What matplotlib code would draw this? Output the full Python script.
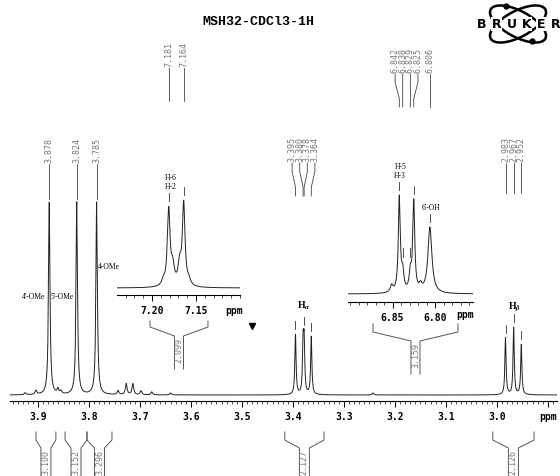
import numpy as np
import matplotlib.pyplot as plt
from matplotlib.patches import Ellipse
from matplotlib.lines import Line2D
from matplotlib.ticker import MultipleLocator, FuncFormatter

W, H = 560, 477

plt.rcParams['font.family'] = ['DejaVu Sans Mono']
plt.rcParams['font.weight'] = 'bold'
plt.rcParams['mathtext.fontset'] = 'stix'

# main spectrum: line positions (ppm), heights, half widths (ppm)
main_ppm = [3.925, 3.904, 3.878, 3.861, 3.855, 3.824, 3.785, 3.743, 3.727, 3.714,
            3.698, 3.677, 3.640, 3.395, 3.380, 3.378, 3.364, 3.243, 2.983, 2.967, 2.952]
main_height = [2, 4, 193, 5, 3, 193, 193, 4, 11, 11,
               4, 3, 2, 60, 48, 48, 58, 2, 57, 67, 50]
main_hwhm = [0.002, 0.002, 0.0017, 0.002, 0.002, 0.0017, 0.0017, 0.002, 0.002, 0.002,
             0.002, 0.002, 0.002, 0.0014, 0.0014, 0.0014, 0.0014, 0.002, 0.0014, 0.0014, 0.0014]

# inset 1 (H-6 / H-2)
in1_ppm = [7.187, 7.181, 7.1765, 7.1685, 7.164, 7.158]
in1_height = [5, 76, 18, 20, 82, 5]
in1_hwhm = [0.0022, 0.0018, 0.0022, 0.0022, 0.0018, 0.0022]

# inset 2 (H-5 / H-3 / 6'-OH)
in2_ppm = [6.851, 6.842, 6.838, 6.829, 6.825, 6.817, 6.806]
in2_height = [7, 95, 18, 18, 90, 6, 66]
in2_hwhm = [0.002, 0.0014, 0.0016, 0.0016, 0.0014, 0.002, 0.0028]

# peak pick labels
picks_in1 = [7.181, 7.164]
picks_in2 = [6.842, 6.838, 6.829, 6.825, 6.806]
picks_ome = [3.878, 3.824, 3.785]
picks_ha = [3.395, 3.380, 3.378, 3.364]
picks_hb = [2.983, 2.967, 2.952]

# integrals
int_start = [3.904, 3.847, 3.804, 3.416, 3.008]
int_end = [3.865, 3.804, 3.755, 3.339, 2.927]
int_value = ["3.100", "3.152", "3.296", "2.127", "2.126"]
int1_range = (7.2023, 7.1364)
int1_value = "2.099"
int2_range = (6.873, 6.773)
int2_value = "3.159"


def lorentz(grid, centers, heights, widths):
    y = np.zeros_like(grid)
    for c, h, w in zip(centers, heights, widths):
        y += h * w ** 2 / ((grid - c) ** 2 + w ** 2)
    return y


def fx(px):
    return px / W


def fy(py):
    return 1 - py / H


def add_axes_px(x0, y0, x1, y1):
    return fig.add_axes([fx(x0), fy(y1), (x1 - x0) / W, (y1 - y0) / H])


def spread(xs, gap):
    xs = np.array(xs, dtype=float)
    for _ in range(500):
        d = np.diff(xs)
        if (d >= gap - 1e-6).all():
            break
        for i in np.where(d < gap)[0]:
            push = (gap - (xs[i + 1] - xs[i])) / 2
            xs[i] -= push
            xs[i + 1] += push
    return xs


def px_of(ax, ppm):
    return ax.transData.transform((ppm, 0))[0]


def draw_picks(ax, ppms, text_bottom, lead_bottom, gap=7.6):
    peak_x = [px_of(ax, p) for p in ppms]
    lab_x = spread(peak_x, gap)
    L = lead_bottom - text_bottom
    for p, lx, pxx in zip(ppms, lab_x, peak_x):
        fig.text(fx(lx), fy(text_bottom), f"{p:.3f}", rotation=90, ha='center',
                 va='bottom', fontsize=6, weight='normal', color='#777777',
                 family='DejaVu Sans Mono')
        fig.add_artist(Line2D([fx(lx), fx(lx), fx(pxx), fx(pxx)],
                              [fy(text_bottom + 2), fy(text_bottom + 0.3 * L),
                               fy(text_bottom + 0.75 * L), fy(lead_bottom)],
                              transform=fig.transFigure, color='#444444', lw=0.6))


def draw_integral(ax, start, end, label, top, tick, knee, bottom, half):
    xl, xr = px_of(ax, start), px_of(ax, end)
    xc = (xl + xr) / 2
    for xe, xb in ((xl, xc - half), (xr, xc + half)):
        fig.add_artist(Line2D([fx(xe), fx(xe), fx(xb), fx(xb)],
                              [fy(top), fy(tick), fy(knee), fy(bottom)],
                              transform=fig.transFigure, color='#555555', lw=0.7))
    fig.text(fx(xc), fy(knee + 1), label, rotation=90, ha='center', va='top',
             fontsize=6, weight='normal', color='#777777')


def mark(ax, grid, spec, ppm, gap=5, length=8):
    y = np.interp(ppm, grid, spec)
    ax.plot([ppm, ppm], [y + gap, y + gap + length], color='#333333', lw=0.6,
            clip_on=False)
    return y + gap + length


def style_axis(ax, major, minor):
    for s in ('top', 'left', 'right'):
        ax.spines[s].set_visible(False)
    ax.spines['bottom'].set_linewidth(0.8)
    ax.set_yticks([])
    ax.patch.set_alpha(0)
    ax.xaxis.set_major_locator(MultipleLocator(major))
    ax.xaxis.set_minor_locator(MultipleLocator(minor))
    ax.tick_params(axis='x', which='major', direction='out', length=4, width=0.7,
                   pad=3, labelsize=7)
    ax.tick_params(axis='x', which='minor', direction='out', length=2, width=0.5)


fig = plt.figure(figsize=(W / 100, H / 100), dpi=100)

# main spectrum
ax = add_axes_px(10, 0, 557, 402)
grid = np.linspace(2.882, 3.955, 6000)
spec = lorentz(grid, main_ppm, main_height, main_hwhm)
ax.plot(grid, spec, color='#222222', lw=0.7)
ax.set_xlim(3.955, 2.882)
ax.set_ylim(-6, 396)
style_axis(ax, 0.1, 0.01)
ax.xaxis.set_major_formatter(FuncFormatter(
    lambda v, _: 'ppm' if abs(v - 2.9) < 1e-6 else f'{v:.1f}'))

ax.annotate("4'-OMe", xy=(3.878, 99), xytext=(-3, 0), textcoords='offset points',
            ha='right', va='center', fontsize=5.5, family='Liberation Serif', weight='normal')
ax.annotate("5'-OMe", xy=(3.824, 99), xytext=(-2.5, 0), textcoords='offset points',
            ha='right', va='center', fontsize=5.5, family='Liberation Serif', weight='normal')
ax.annotate("4-OMe", xy=(3.785, 129), xytext=(1, 0), textcoords='offset points',
            ha='left', va='center', fontsize=5.5, family='Liberation Serif', weight='normal')

top = max(mark(ax, grid, spec, p) for p in (3.395, 3.379, 3.364))
ax.text(3.3795, top + 6, r'H$_{\alpha}$', ha='center', va='bottom', fontsize=7,
        family='Liberation Serif', weight='bold')
top = max(mark(ax, grid, spec, p) for p in picks_hb)
ax.text(2.966, top + 1, r'H$_{\beta}$', ha='center', va='bottom', fontsize=7,
        family='Liberation Serif', weight='bold')

# inset 1
ax1 = add_axes_px(117, 170, 240, 296)
g1 = np.linspace(7.10, 7.2398, 3000)
s1 = lorentz(g1, in1_ppm, in1_height, in1_hwhm)
ax1.plot(g1, s1, color='#222222', lw=0.7)
ax1.set_xlim(7.2398, 7.10)
ax1.set_ylim(-7, 119)
style_axis(ax1, 0.05, 0.01)
ax1.set_xticks([7.20, 7.15])
ax1.xaxis.set_major_formatter(FuncFormatter(lambda v, _: f'{v:.2f}'))
ax1.annotate('ppm', xy=(7.107, 0), xycoords=('data', 'axes fraction'),
             xytext=(0, -10.5), textcoords='offset points', ha='center', va='center',
             fontsize=7)
top = mark(ax1, g1, s1, 7.181)
mark(ax1, g1, s1, 7.164)
ax1.text(7.179, top + 3, "H-6\nH-2", ha='center', va='bottom', fontsize=5.5,
         family='Liberation Serif', weight='normal', linespacing=1.2)

# inset 2
ax2 = add_axes_px(348, 150, 473, 303)
g2 = np.linspace(6.7553, 6.9024, 3000)
s2 = lorentz(g2, in2_ppm, in2_height, in2_hwhm)
ax2.plot(g2, s2, color='#222222', lw=0.7)
ax2.set_xlim(6.9024, 6.7553)
ax2.set_ylim(-8, 145)
style_axis(ax2, 0.05, 0.01)
ax2.set_xticks([6.85, 6.80])
ax2.xaxis.set_major_formatter(FuncFormatter(lambda v, _: f'{v:.2f}'))
ax2.annotate('ppm', xy=(6.765, 0), xycoords=('data', 'axes fraction'),
             xytext=(0, -9), textcoords='offset points', ha='center', va='center',
             fontsize=7)
top = mark(ax2, g2, s2, 6.842)
mark(ax2, g2, s2, 6.825)
mark(ax2, g2, s2, 6.838, gap=6, length=9)
mark(ax2, g2, s2, 6.829, gap=6, length=9)
ax2.text(6.841, top + 3, "H-5\nH-3", ha='center', va='bottom', fontsize=5.5,
         family='Liberation Serif', weight='normal', linespacing=1.2)
top = mark(ax2, g2, s2, 6.806)
ax2.text(6.805, top + 3, "6'-OH", ha='center', va='bottom', fontsize=5.5,
         family='Liberation Serif', weight='normal')

# peak pick labels with leader lines
draw_picks(ax1, picks_in1, 67, 102)
draw_picks(ax2, picks_in2, 73, 108)
draw_picks(ax, picks_ome, 163, 200)
draw_picks(ax, picks_ha, 162, 197)
draw_picks(ax, picks_hb, 162, 194)

# integrals
for s, e, v in zip(int_start, int_end, int_value):
    draw_integral(ax, s, e, v, 433, 441, 449, 480, 5)
draw_integral(ax1, int1_range[0], int1_range[1], int1_value, 322, 328, 337, 370, 4.5)
draw_integral(ax2, int2_range[0], int2_range[1], int2_value, 325, 333, 342, 375, 4.5)

fig.add_artist(Line2D([fx(252)], [fy(327)], marker='v', ms=4, color='k',
                      transform=fig.transFigure))

# title
fig.text(fx(258), fy(22), "MSH32-CDCl3-1H", ha='center', va='center',
         fontsize=9.5, family='Liberation Mono', weight='bold')

# logo
axl = add_axes_px(470, 0, 560, 50)
axl.set_xlim(0, 90)
axl.set_ylim(50, 0)
axl.axis('off')
for ang in (28, -28):
    axl.add_patch(Ellipse((48, 25), 62, 26, angle=ang, fill=False, lw=1.8, color='k'))
for i, ch in enumerate("BRUKER"):
    axl.text(12 + i * 14.8, 25, ch, ha='center', va='center', fontsize=9,
             family='DejaVu Sans', weight='bold',
             bbox=dict(boxstyle='square,pad=0.05', fc='white', ec='none'))
axl.plot([36, 62], [7, 42], 'o', color='k', ms=3.5)

fig.savefig('out.png', dpi=100)
